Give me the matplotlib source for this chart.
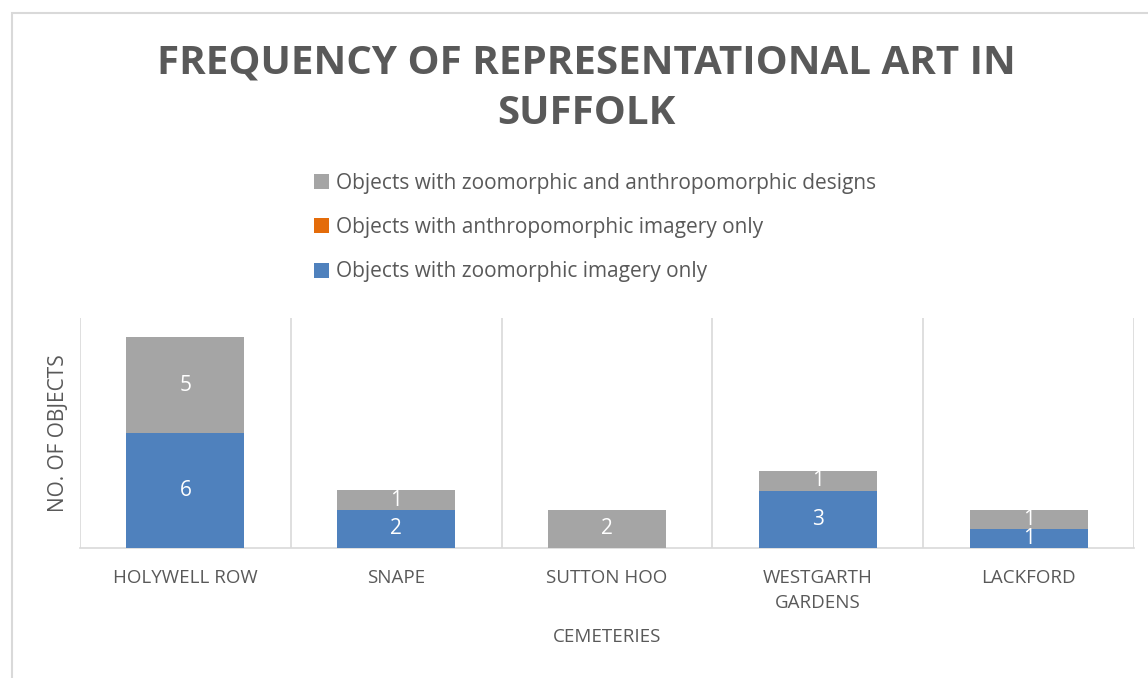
import numpy as np
import matplotlib.pyplot as plt
from matplotlib.patches import Patch, Rectangle

# data
cemeteries = ['HOLYWELL ROW', 'SNAPE', 'SUTTON HOO', 'WESTGARTH\nGARDENS', 'LACKFORD']
zoo_only = [6, 2, 0, 3, 1]
anthro_only = [0, 0, 0, 0, 0]
both = [5, 1, 2, 1, 1]

series_names = ['Objects with zoomorphic imagery only',
                'Objects with anthropomorphic imagery only',
                'Objects with zoomorphic and anthropomorphic designs']
colours = ['#4F81BD', '#E46C0A', '#A5A5A5']
txt = '#595959'
grid = '#D9D9D9'

plt.rcParams['font.family'] = ['Open Sans', 'DejaVu Sans']

fig = plt.figure(figsize=(11.48, 6.78), dpi=100)
ax = fig.add_axes([80 / 1148, 1 - 548 / 678, (1134 - 80) / 1148, (548 - 318) / 678])

# chart border (Excel-like frame)
fig.patches.append(Rectangle((12 / 1148, -0.05), 1.2, 1 - 13 / 678 + 0.05,
                             transform=fig.transFigure, fill=False,
                             edgecolor=grid, linewidth=1.5))

x = np.arange(len(cemeteries))
w = 0.56
bottom = np.zeros(len(x))
for vals, col in zip([zoo_only, anthro_only, both], colours):
    vals = np.array(vals, dtype=float)
    ax.bar(x, vals, w, bottom=bottom, color=col, zorder=3)
    for xi, b, v in zip(x, bottom, vals):
        if v > 0:
            ax.text(xi, b + v / 2, str(int(v)), ha='center', va='center',
                    color='white', fontsize=15, zorder=4)
    bottom += vals

ax.set_xlim(-0.5, len(x) - 0.5)
ax.set_ylim(0, 12)
ax.set_yticks([])
ax.set_xticks(x)
ax.set_xticklabels(cemeteries, fontsize=13.5, color=txt, linespacing=1.5)
ax.set_xticks(np.arange(-0.5, len(x)), minor=True)
ax.tick_params(axis='x', which='both', length=0, pad=15)
ax.grid(True, which='minor', axis='x', color=grid, linewidth=1.2, zorder=0)
for s in ['top', 'right', 'left']:
    ax.spines[s].set_visible(False)
ax.spines['bottom'].set_color(grid)
ax.spines['bottom'].set_linewidth(1.2)

ax.set_ylabel('NO. OF OBJECTS', fontsize=15, color=txt, labelpad=8)
ax.set_xlabel('CEMETERIES', fontsize=13.5, color=txt, labelpad=12)

fig.text(0.511, 1 - 63 / 678, 'FREQUENCY OF REPRESENTATIONAL ART IN',
         ha='center', va='center', fontsize=29, fontweight='bold', color=txt)
fig.text(0.511, 1 - 114 / 678, 'SUFFOLK',
         ha='center', va='center', fontsize=29, fontweight='bold', color=txt)

handles = [Patch(facecolor=c) for c in colours][::-1]
fig.legend(handles, series_names[::-1], loc='upper left',
           bbox_to_anchor=(295 / 1148, 1 - 154 / 678), frameon=False,
           fontsize=15, labelcolor=txt, handlelength=0.75, handleheight=0.75,
           handletextpad=0.3, labelspacing=1.12)

fig.savefig('out.png', dpi=100)
